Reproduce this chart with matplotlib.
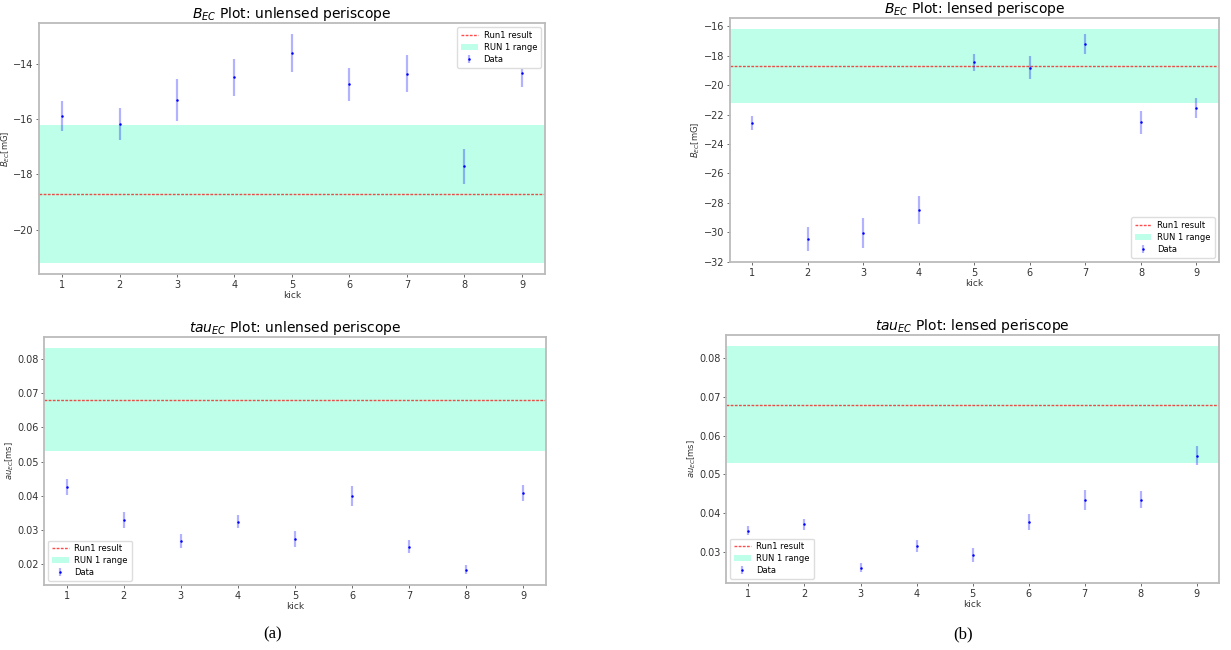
import matplotlib.pyplot as plt

kick = [1, 2, 3, 4, 5, 6, 7, 8, 9]

# run 1 reference values
b_run1 = -18.7
b_run1_err = 2.5
tau_run1 = 0.068
tau_run1_err = 0.015

b_unlensed = [-15.87, -16.17, -15.31, -14.48, -13.60, -14.73, -14.34, -17.71, -14.33]
b_unlensed_err = [0.54, 0.58, 0.76, 0.67, 0.68, 0.60, 0.66, 0.63, 0.51]

b_lensed = [-22.57, -30.45, -30.05, -28.50, -18.45, -18.80, -17.20, -22.52, -21.55]
b_lensed_err = [0.50, 0.82, 1.00, 0.97, 0.60, 0.78, 0.68, 0.78, 0.70]

tau_unlensed = [0.0425, 0.0330, 0.0268, 0.0325, 0.0274, 0.0400, 0.0252, 0.0185, 0.0409]
tau_unlensed_err = [0.0023, 0.0023, 0.0021, 0.0020, 0.0023, 0.0030, 0.0020, 0.0012, 0.0024]

tau_lensed = [0.0355, 0.0371, 0.0260, 0.0315, 0.0291, 0.0378, 0.0435, 0.0435, 0.0548]
tau_lensed_err = [0.0012, 0.0014, 0.0011, 0.0015, 0.0018, 0.0021, 0.0026, 0.0021, 0.0024]


def kick_plot(ax, y, yerr, run1, run1_err, title, ylabel, loc):
    ax.axhline(run1, color='r', ls=(0, (2, 1)), lw=1.0, alpha=0.7, label='Run1 result')
    ax.axhspan(run1 - run1_err, run1 + run1_err, color='aquamarine', alpha=0.5,
               lw=0, label='RUN 1 range')
    ax.errorbar(kick, y, yerr=yerr, fmt='.', color='b', ms=1.6,
                ecolor=(0, 0, 1, 0.3), elinewidth=1.6, label='Data')
    ax.set_xticks(kick)
    ax.set_title(title, fontsize=10, pad=3)
    ax.set_xlabel('kick', fontsize=6.5, labelpad=1, color='#333333')
    ax.set_ylabel(ylabel, fontsize=6, labelpad=1, color='#333333')
    ax.tick_params(labelsize=7, length=2, width=0.6, colors='#555555',
                   labelcolor='#333333', pad=2)
    for s in ax.spines.values():
        s.set_color('#bbbbbb')
        s.set_linewidth(1.3)
    leg = ax.legend(loc=loc, fontsize=6, handlelength=2.0, borderpad=0.45,
                    labelspacing=0.35, handletextpad=0.7, framealpha=1)
    leg.get_frame().set_edgecolor('#dddddd')


fig = plt.figure(figsize=(12.31, 6.5), dpi=100)

ax1 = fig.add_axes([0.0317, 0.5785, 0.411, 0.386])
ax2 = fig.add_axes([0.593, 0.597, 0.397, 0.375])
ax3 = fig.add_axes([0.0357, 0.100, 0.4078, 0.3815])
ax4 = fig.add_axes([0.5898, 0.103, 0.4005, 0.3815])

kick_plot(ax1, b_unlensed, b_unlensed_err, b_run1, b_run1_err,
          '$B_{EC}$ Plot: unlensed periscope', '$B_{EC}$[mG]', 'upper right')
kick_plot(ax2, b_lensed, b_lensed_err, b_run1, b_run1_err,
          '$B_{EC}$ Plot: lensed periscope', '$B_{EC}$[mG]', 'lower right')
kick_plot(ax3, tau_unlensed, tau_unlensed_err, tau_run1, tau_run1_err,
          '$tau_{EC}$ Plot: unlensed periscope', '$au_{EC}$[ms]', 'lower left')
kick_plot(ax4, tau_lensed, tau_lensed_err, tau_run1, tau_run1_err,
          '$tau_{EC}$ Plot: lensed periscope', '$au_{EC}$[ms]', 'lower left')

fig.text(273 / 1231, 1 - 634 / 650, '(a)', ha='center', va='center',
         family='Liberation Serif', fontsize=12)
fig.text(963 / 1231, 1 - 634 / 650, '(b)', ha='center', va='center',
         family='Liberation Serif', fontsize=12)

fig.savefig('out.png', dpi=100)
plt.close(fig)
